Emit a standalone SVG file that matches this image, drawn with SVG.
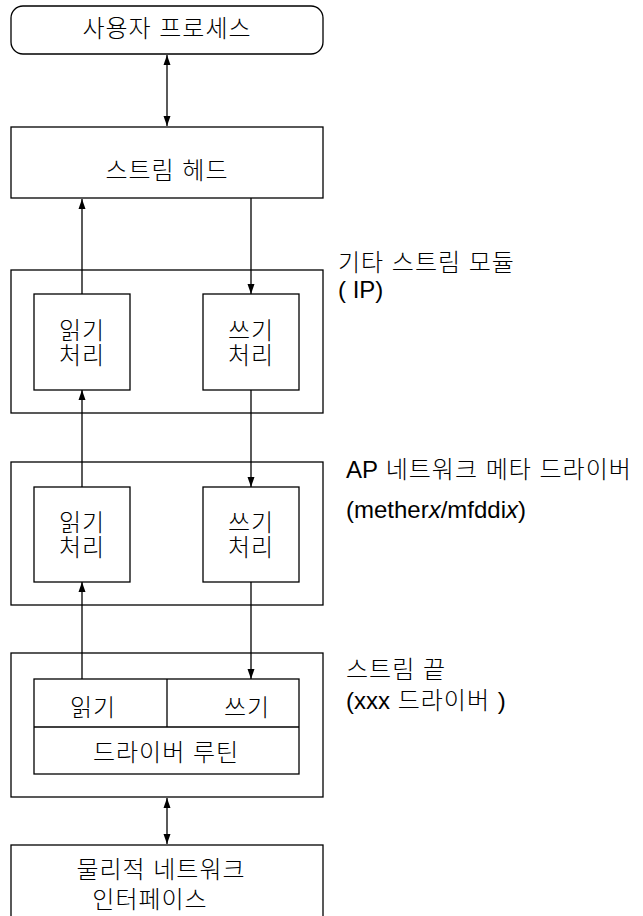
<svg xmlns="http://www.w3.org/2000/svg" width="643" height="916" viewBox="0 0 643 916">
<style>
.box{fill:#fff;stroke:#000;stroke-width:1.3}
.ln{fill:none;stroke:#000;stroke-width:1.3}
text{font-family:"Liberation Sans","Noto Sans CJK KR",sans-serif;font-size:24px;fill:#000;font-weight:300}
.c{text-anchor:middle}
.k{letter-spacing:1px}
.lat{font-size:24px;letter-spacing:0;font-weight:400}
</style>
<defs>
<marker id="ah" viewBox="0 0 10 10" refX="10" refY="5" markerWidth="10" markerHeight="10" markerUnits="userSpaceOnUse" orient="auto-start-reverse">
<path d="M0,1.5 L10,5 L0,8.5 Z" fill="#000"/>
</marker>
</defs>
<rect width="643" height="916" fill="#fff"/>
<g id="user-process">
<rect class="box" x="11" y="6" width="312" height="48" rx="12"/>
<text class="c k" x="167" y="37">사용자 프로세스</text>
</g>
<g id="stream-head">
<rect class="box" x="11" y="127" width="312" height="71"/>
<text class="c k" x="167" y="179">스트림 헤드</text>
</g>
<g id="ip-module">
<rect class="box" x="11" y="270" width="312" height="143"/>
<rect class="box" x="34" y="294" width="96" height="96"/>
<rect class="box" x="203" y="294" width="96" height="96"/>
<text class="c k" x="82" y="339">읽기</text>
<text class="c k" x="82" y="364">처리</text>
<text class="c k" x="251" y="339">쓰기</text>
<text class="c k" x="251" y="364">처리</text>
</g>
<g id="ap-driver">
<rect class="box" x="11" y="462" width="312" height="143"/>
<rect class="box" x="34" y="487" width="96" height="95"/>
<rect class="box" x="203" y="487" width="96" height="95"/>
<text class="c k" x="82" y="531">읽기</text>
<text class="c k" x="82" y="556">처리</text>
<text class="c k" x="251" y="531">쓰기</text>
<text class="c k" x="251" y="556">처리</text>
</g>
<g id="stream-end">
<rect class="box" x="11" y="653" width="312" height="144"/>
<rect class="box" x="34" y="679" width="265" height="95"/>
<line class="ln" x1="34" y1="727" x2="299" y2="727"/>
<line class="ln" x1="167" y1="679" x2="167" y2="727"/>
<text class="c k" x="93" y="716">읽기</text>
<text class="c k" x="247" y="716">쓰기</text>
<text class="c k" x="166" y="761">드라이버 루틴</text>
</g>
<g id="physical-interface">
<rect class="box" x="11" y="845" width="312" height="80"/>
<text class="c k" x="161" y="878">물리적 네트워크</text>
<text class="c k" x="150" y="908">인터페이스</text>
</g>
<g id="labels">
<text class="k" x="338" y="271">기타 스트림 모듈</text>
<text class="lat" x="338" y="298">( IP)</text>
<text class="k" x="346" y="478"><tspan class="lat">AP</tspan> 네트워크 메타 드라이버</text>
<text class="lat" x="346" y="518">(mether<tspan font-style="italic">x</tspan>/mfddi<tspan font-style="italic">x</tspan>)</text>
<text class="k" x="346" y="678">스트림 끝</text>
<text x="346" y="709"><tspan class="lat">(xxx</tspan><tspan class="k"> 드라이버 </tspan><tspan class="lat">)</tspan></text>
</g>
<g id="connectors">
<line class="ln" x1="167" y1="55" x2="167" y2="126" marker-start="url(#ah)" marker-end="url(#ah)"/>
<line class="ln" x1="82" y1="294" x2="82" y2="199" marker-end="url(#ah)"/>
<line class="ln" x1="251" y1="198" x2="251" y2="294" marker-end="url(#ah)"/>
<line class="ln" x1="82" y1="487" x2="82" y2="390" marker-end="url(#ah)"/>
<line class="ln" x1="251" y1="390" x2="251" y2="487" marker-end="url(#ah)"/>
<line class="ln" x1="82" y1="679" x2="82" y2="582" marker-end="url(#ah)"/>
<line class="ln" x1="251" y1="582" x2="251" y2="679" marker-end="url(#ah)"/>
<line class="ln" x1="167" y1="798" x2="167" y2="844" marker-start="url(#ah)" marker-end="url(#ah)"/>
</g>
</svg>
